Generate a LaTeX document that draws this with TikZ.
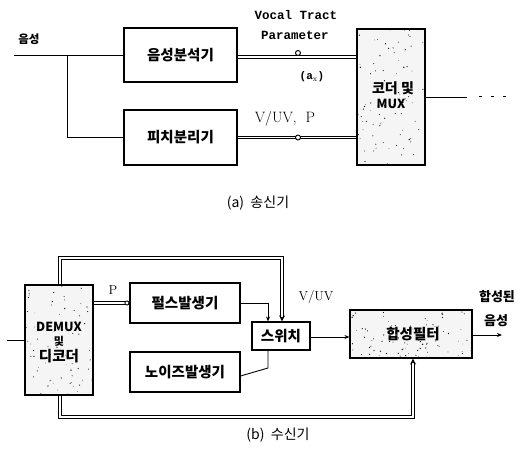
\documentclass[tikz,border=0pt]{standalone}
\usepackage{fontspec}
\newfontfamily\kr{Noto Sans CJK KR}
\newfontfamily\mono{Liberation Mono}
\usetikzlibrary{arrows.meta}
\begin{document}
\begin{tikzpicture}[x=1pt,y=-1pt,line width=0.9pt,
  blk/.style={draw,line width=1.1pt,inner sep=0pt,align=center,font=\kr\bfseries\fontsize{14.5}{16}\selectfont},
  lbl/.style={inner sep=0pt,font=\kr\bfseries\fontsize{13}{14}\selectfont,align=center},
  lat/.style={inner sep=0pt,font=\fontsize{13}{15}\selectfont},
  vt/.style={inner sep=0pt,font=\mono\bfseries\fontsize{12.5}{14}\selectfont},
  dbl/.style={double,double distance=1.3pt,line width=1.15pt},
  arr/.style={-{Stealth[length=5pt,width=4pt]}},
  oarr/.style={-{Stealth[open,length=6pt,width=6pt,line width=0.9pt]}},
  mk/.style={circle,draw,fill=white,inner sep=0pt,minimum size=5pt,line width=0.9pt},
  ]
\useasboundingbox (0,0) rectangle (532,454);

% ---------- (a) transmitter ----------
\node[blk,minimum width=113,minimum height=54] (an) at (180.5,55) {음성분석기};
\node[blk,minimum width=113,minimum height=55] (pd) at (180.5,137.5) {피치분리기};
\node[draw,line width=1.1pt,minimum width=68,minimum height=136,fill=black!4,inner sep=0pt] (mux) at (391,97) {};
\begin{scope}
  \clip (357,29) rectangle (425,165);
  \pgfmathsetseed{11}
  \foreach \i in {1,...,90}{\fill ({357+rnd*68},{29+rnd*136}) circle ({0.3+0.4*rnd});}
\end{scope}
\node[lbl,font=\kr\bfseries\fontsize{14}{15}\selectfont] (muxa) at (393,88) {코더\ 및};
\node[lbl,font=\kr\bfseries\fontsize{12.5}{14}\selectfont] (muxb) at (391,104) {MUX};

\node[lbl,font=\kr\bfseries\fontsize{11.5}{13}\selectfont] (in) at (29,39) {음성};
\coordinate (ia) at (14,55);
\coordinate (br) at (67,55);
\draw (ia) -- (an.west |- ia);
\draw (br) |- (pd.west);

\draw[dbl] ([yshift=-2pt]an.east) -- ([yshift=-2pt]an.east -| mux.west);
\draw[dbl] (pd.east) -- (pd.east -| mux.west);
\node[mk] (m1) at (298,53) {};
\node[mk] (m2) at (298,137.5) {};

\node[vt] (vtt) at (296,15) {Vocal Tract};
\node[vt] (par) at (295,35) {Parameter};
\node[vt,font=\mono\bfseries\fontsize{11}{13}\selectfont] (ax) at (312,77) {(a$_\mathrm{x}$)};
\node[lat,font=\fontsize{15}{17}\selectfont] (vp) at (285,119) {V/UV,\ \ P};

\coordinate (mo) at (467,97);
\draw (mux.east |- mo) -- (mo);
\node[inner sep=0pt] (dots) at (492,97) {\rule{3pt}{1pt}\hspace{9pt}\rule{3pt}{1pt}\hspace{9pt}\rule{3pt}{1pt}};

\node[lbl,font=\kr\fontsize{14}{15}\selectfont] (capa) at (258,203) {(a)\ \ 송신기};

% ---------- (b) receiver ----------
\node[draw,line width=1.1pt,minimum width=68,minimum height=110,fill=black!4,inner sep=0pt] (dem) at (59,340) {};
\begin{scope}
  \clip (25,285) rectangle (93,395);
  \pgfmathsetseed{5}
  \foreach \i in {1,...,70}{\fill ({25+rnd*68},{285+rnd*110}) circle ({0.3+0.4*rnd});}
\end{scope}
\node[lbl,font=\kr\bfseries\fontsize{12.5}{14}\selectfont] (dm1) at (59,327) {DEMUX};
\node[lbl,font=\kr\bfseries\fontsize{11}{12}\selectfont] (dm2) at (59,341) {및};
\node[lbl,font=\kr\bfseries\fontsize{14.5}{16}\selectfont] (dm3) at (59,356) {디코더};

\node[blk,minimum width=110,minimum height=40] (pul) at (185,303) {펄스발생기};
\node[blk,minimum width=110,minimum height=40] (noi) at (185,372) {노이즈발생기};
\node[blk,minimum width=58,minimum height=28] (sw) at (281,336) {스위치};
\node[draw,line width=1.1pt,minimum width=122,minimum height=48,fill=black!4,inner sep=0pt] (syn) at (411,334) {};
\begin{scope}
  \clip (350,310) rectangle (472,358);
  \pgfmathsetseed{3}
  \foreach \i in {1,...,90}{\fill ({350+rnd*122},{310+rnd*48}) circle ({0.3+0.4*rnd});}
\end{scope}
\node[lbl,font=\kr\bfseries\fontsize{14.5}{16}\selectfont] (synt) at (413,334) {합성필터};

\coordinate (di) at (7,340);
\draw (di) -- (dem.west |- di);

\draw[dbl,-{Circle[open,length=5pt,line width=0.9pt]}] (pul.west -| dem.east) -- (pul.west);
\node[lat,font=\fontsize{13}{15}\selectfont] (p) at (113,290) {P};

\coordinate (pk) at (268,303);
\draw[arr] (pul.east) -- (pk) -- (pk |- sw.north);
\coordinate (nk) at (268,368);
\draw ([yshift=-4pt]noi.east) -- (nk) -- (nk |- sw.south);

\coordinate (tl) at (60,258);
\coordinate (tr) at (282,258);
\draw[dbl,oarr] (dem.north -| tl) -- (tl) -- (tr) -- (tr |- sw.north);
\node[lat,font=\fontsize{13}{15}\selectfont] (vuv) at (316,297) {V/UV};

\coordinate (ss) at (310,337);
\draw[arr] (sw.east |- ss) -- (syn.west |- ss);
\coordinate (so) at (502,335);
\draw[arr] (syn.east |- so) -- (so);
\node[lbl] (out1) at (497,297) {합성된};
\node[lbl] (out2) at (496,321) {음성};

\coordinate (bl) at (60,417);
\coordinate (bk) at (413,417);
\draw[dbl,oarr] (dem.south -| bl) -- (bl) -- (bk) -- (bk |- syn.south);

\node[lbl,font=\kr\fontsize{14}{15}\selectfont] (capb) at (278,435) {(b)\ \ 수신기};
\end{tikzpicture}
\end{document}
